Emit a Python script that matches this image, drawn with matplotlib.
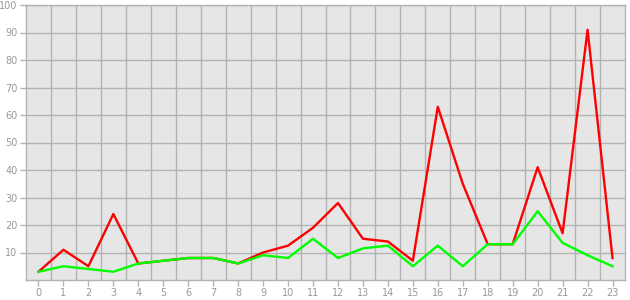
import matplotlib
matplotlib.use("Agg")
import matplotlib.pyplot as plt

# values
hours = list(range(24))
red_vals = [3, 11, 5, 24, 6, 7, 8, 8, 6, 10, 12.5, 19, 28, 15, 14, 7,
            63, 35, 13, 13, 41, 17, 91, 8]
green_vals = [3, 5, 4, 3, 6, 7, 8, 8, 6, 9, 8, 15, 8, 11.5, 12.5, 5,
              12.5, 5, 13, 13, 25, 13.5, 9, 5]
y_ticks = [10, 20, 30, 40, 50, 60, 70, 80, 90, 100]

grid_col = "#b3b3b3"
txt_col = "#999999"

fig = plt.figure(figsize=(6.3, 3.0), dpi=100)
ax = fig.add_axes([26 / 630, 20 / 300, 599 / 630, 275 / 300])
ax.set_facecolor("#e6e6e6")

# grid sits between categories on x
for i in range(len(hours) - 1):
    ax.axvline(i + 0.5, color=grid_col, lw=1.0, zorder=1)
for v in y_ticks:
    ax.axhline(v, color=grid_col, lw=1.0, zorder=1)

ax.plot(hours, red_vals, color="#ff0000", lw=1.7, zorder=3)
ax.plot(hours, green_vals, color="#00ff00", lw=1.7, zorder=4)

ax.set_xlim(-0.5, 23.5)
ax.set_ylim(0, 100)
ax.set_xticks(hours)
ax.set_xticklabels([str(h) for h in hours])
ax.set_yticks(y_ticks)
ax.set_yticklabels([str(v) for v in y_ticks])
ax.tick_params(colors=grid_col, labelcolor=txt_col, labelsize=7,
               length=4, width=1.0, pad=2)
for s in ax.spines.values():
    s.set_color(grid_col)
    s.set_linewidth(1.0)

fig.savefig("out.png", dpi=100)
